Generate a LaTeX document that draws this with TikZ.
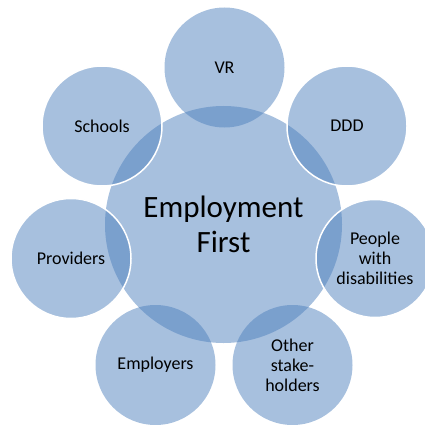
\documentclass[tikz,border=0pt]{standalone}
\usepackage{fontspec}
\setmainfont{Carlito}
\begin{document}
\begin{tikzpicture}[x=1pt,y=-1pt,
  hub/.style={circle, inner sep=0pt, minimum size=237pt,
    fill={rgb,255:red,79;green,129;blue,189}, fill opacity=0.5, text opacity=1,
    align=center, font=\fontsize{31}{35}\selectfont},
  spoke/.style={circle, inner sep=0pt, minimum size=#1,
    fill={rgb,255:red,79;green,129;blue,189}, fill opacity=0.5, text opacity=1,
    align=center, font=\fontsize{18}{20}\selectfont},
  spoke/.default=120pt,
  rim/.style={draw=white, draw opacity=1, line width=1.5pt}]
  \useasboundingbox (0,0) rectangle (424,425);
  % central theme
  \node[hub] (ef) at (223.5,224.5) {Employment\\First};
  % surrounding partners
  \node[spoke] (vr) at (224.5,67.5) {VR};
  \node[spoke, rim] (ddd) at (347,126) {DDD};
  \node[spoke, rim] (sch) at (102,126) {Schools};
  \node[spoke, rim] (prov) at (71,258.5) {Providers};
  \node[spoke=118pt, rim] (pwd) at (375,258.5) {People\\with\\disabilities};
  \node[spoke] (emp) at (155.5,365) {Employers};
  \node[spoke] (oth) at (292.5,365) {Other\\stake-\\holders};
\end{tikzpicture}
\end{document}
